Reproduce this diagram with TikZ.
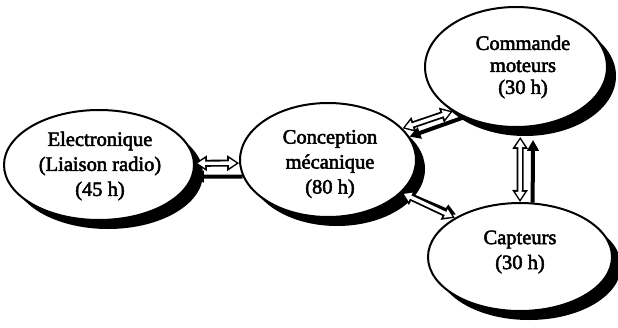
\documentclass[tikz,border=0pt]{standalone}
\usepackage{fontspec}
\setmainfont{Liberation Serif}[FakeBold=2.5]
\usetikzlibrary{arrows.meta,shapes.geometric,shadows}

\tikzset{
  blob/.style={ellipse, draw=black, line width=2pt, fill=white, inner sep=0pt,
    drop shadow={shadow xshift=9pt, shadow yshift=-9pt, fill=black, opacity=1}},
  lbl/.style={align=center, inner sep=0pt, font=\fontsize{20.5}{25}\selectfont},
  hollowout/.style={line width=7pt,
    {Triangle[length=12pt,width=15pt]}-{Triangle[length=12pt,width=15pt]}},
  hollowin/.style={white, line width=3.4pt,
    {Triangle[length=7.5pt,width=9pt]}-{Triangle[length=7.5pt,width=9pt]}},
  solidarr/.style={line width=4pt, -{Triangle[length=11pt,width=11.5pt]}},
}

\begin{document}
\begin{tikzpicture}[x=1pt,y=-1pt]
\useasboundingbox (0,0) rectangle (618,327);

% work packages
\node[blob, minimum width=190pt, minimum height=110pt] (elec) at (99,165) {};
\node[blob, minimum width=176pt, minimum height=114pt] (conc) at (328,160) {};
\node[blob, minimum width=182pt, minimum height=120pt] (cmd)  at (516,67)  {};
\node[blob, minimum width=184pt, minimum height=108pt] (capt) at (520,257) {};

\node[lbl] (elecT) at (100,166) {Electronique\\(Liaison radio)\\(45 h)};
\node[lbl] (concT) at (330,164) {Conception\\mécanique\\(80 h)};
\node[lbl, font=\fontsize{20.5}{22}\selectfont] (cmdT) at (523,67) {Commande\\moteurs\\(30 h)};
\node[lbl] (captT) at (520,252) {Capteurs\\(30 h)};

% Electronique -- Conception
\draw[hollowout] (elec.1) -- (conc.182);
\draw[hollowin, shorten <=2.6pt, shorten >=2.6pt] (elec.1) -- (conc.182);
\draw[solidarr] (conc.191) -- (elec.353);

% Conception -- Commande moteurs
\draw[hollowout] (conc.23) -- (cmd.215);
\draw[hollowin, shorten <=2.6pt, shorten >=2.6pt] (conc.23) -- (cmd.215);
\draw[solidarr] (cmd.224) -- (conc.16);

% Conception -- Capteurs (the plain arrow runs just behind the outlined one)
\draw[solidarr, shorten >=3pt] (conc.337) -- (capt.146);
\draw[hollowout] (conc.336) -- (capt.149);
\draw[hollowin, shorten <=2.6pt, shorten >=2.6pt] (conc.336) -- (capt.149);

% Commande moteurs -- Capteurs
\draw[hollowout, shorten <=9pt] (cmd.274) -- (capt.90);
\draw[hollowin, shorten <=11.6pt, shorten >=2.6pt] (cmd.274) -- (capt.90);
\draw[solidarr, shorten >=13pt] (capt.77) -- (cmd.286);
\end{tikzpicture}
\end{document}
